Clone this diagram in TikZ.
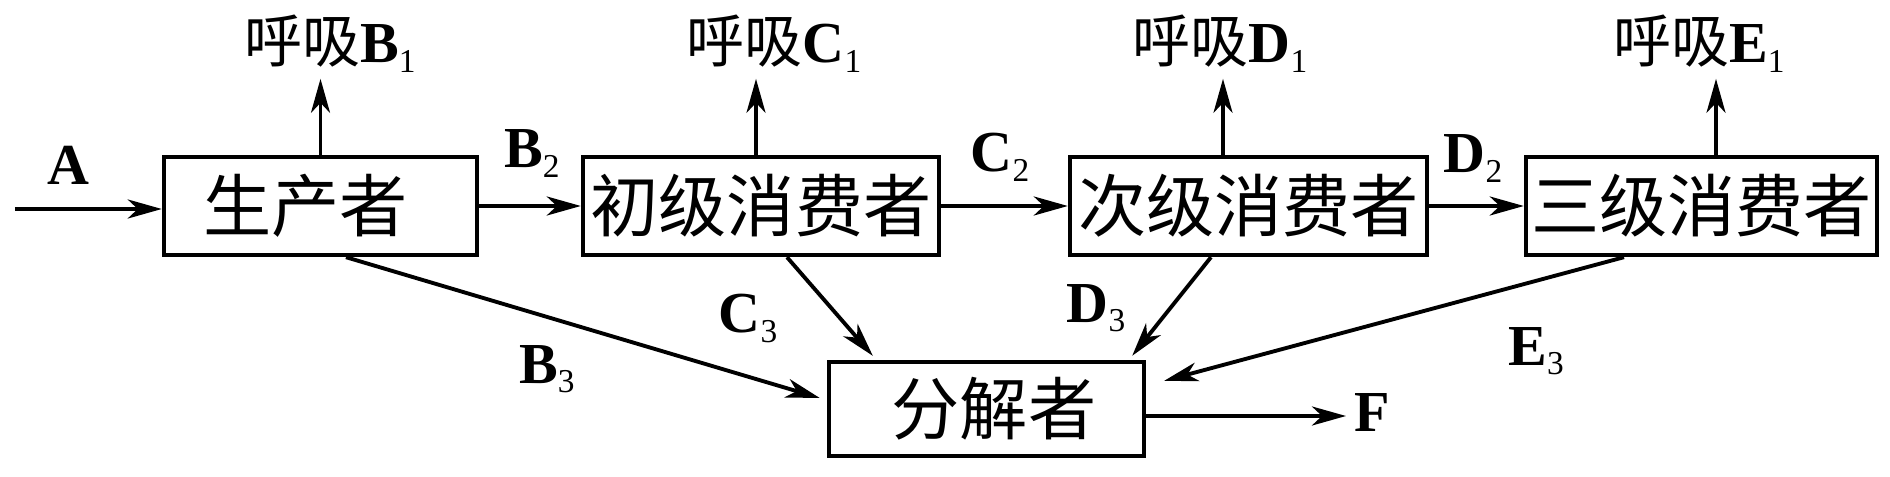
\documentclass[tikz,border=0pt]{standalone}
\usepackage{fontspec}
\setmainfont{Liberation Serif}
\newfontfamily\cjk{Noto Sans CJK SC}
\usetikzlibrary{arrows.meta}
\newcommand\boxfont{\cjk\fontsize{19.4pt}{19.4pt}\selectfont}
\newcommand\lblfont{\fontsize{16.5pt}{16.5pt}\selectfont\bfseries}
\newcommand\lowsub[1]{\raisebox{-2.6pt}{\fontsize{9.5pt}{9.5pt}\selectfont\mdseries #1}}

\begin{document}
\begin{tikzpicture}[
  box/.style={draw, line width=1.25pt, inner sep=0pt, minimum height=0.98cm, font=\boxfont},
  lbl/.style={inner sep=0pt, anchor=base, font=\lblfont},
  resp/.style={lbl, inner sep=1.7pt},
  flow/.style={line width=1.1pt, -{Stealth[length=3.4mm, width=1.9mm, inset=1mm]}}
]
\useasboundingbox (0,0) rectangle (18.90,4.76);

\node[box, minimum width=3.13cm] (prod) at (3.205,2.70) {生产者\hspace*{0.3cm}};
\node[box, minimum width=3.56cm] (c1)   at (7.61,2.70)  {初级消费者};
\node[box, minimum width=3.57cm] (c2)   at (12.485,2.70) {次级消费者};
\node[box, minimum width=3.51cm] (c3)   at (17.015,2.70) {三级消费者};
\node[box, minimum width=3.15cm, minimum height=0.94cm] (dec) at (9.865,0.67) {\hspace*{0.15cm}分解者};

\node[resp] (rB1) at (3.30,4.13)  {{\cjk\mdseries 呼吸}B\lowsub{1}};
\node[resp] (rC1) at (7.74,4.13)  {{\cjk\mdseries 呼吸}C\lowsub{1}};
\node[resp] (rD1) at (12.20,4.13) {{\cjk\mdseries 呼吸}D\lowsub{1}};
\node[resp] (rE1) at (16.99,4.13) {{\cjk\mdseries 呼吸}E\lowsub{1}};

\node[lbl] (lA)  at (0.68,2.91)  {A};
\node[lbl] (lB2) at (5.32,3.08)  {B\lowsub{2}};
\node[lbl] (lC2) at (10.00,3.04) {C\lowsub{2}};
\node[lbl] (lD2) at (14.73,3.03) {D\lowsub{2}};
\node[lbl] (lB3) at (5.47,0.93)  {B\lowsub{3}};
\node[lbl] (lC3) at (7.48,1.43)  {C\lowsub{3}};
\node[lbl] (lD3) at (10.96,1.54) {D\lowsub{3}};
\node[lbl] (lE3) at (15.36,1.11) {E\lowsub{3}};
\node[lbl, anchor=base west] (lF) at (13.54,0.44) {F};

\coordinate (ain)  at (0.15,2.67);
\coordinate (fend) at (13.46,0.60);

\draw[flow] (ain) -- (prod.west |- ain);
\draw[flow] (prod.east) -- (c1.west);
\draw[flow] (c1.east) -- (c2.west);
\draw[flow] (c2.east) -- (c3.west);
\draw[flow] (dec.east |- fend) -- (fend);

\draw[flow] (prod.north) -- (prod.north |- rB1.south);
\draw[flow] ([xshift=-0.05cm]c1.north) -- ([xshift=-0.05cm]c1.north |- rC1.south);
\draw[flow] ([xshift=-0.255cm]c2.north) -- ([xshift=-0.255cm]c2.north |- rD1.south);
\draw[flow] ([xshift=0.145cm]c3.north) -- ([xshift=0.145cm]c3.north |- rE1.south);

\draw[flow] ([xshift=0.255cm]prod.south) -- ([xshift=-0.07cm,yshift=0.11cm]dec.west);
\draw[flow] ([xshift=0.26cm]c1.south) -- ([xshift=0.46cm,yshift=0.04cm]dec.north west);
\draw[flow] ([xshift=-0.375cm]c2.south) -- ([xshift=-0.14cm,yshift=0.04cm]dec.north east);
\draw[flow] ([xshift=-0.775cm]c3.south) -- ([xshift=0.18cm,yshift=-0.21cm]dec.north east);
\end{tikzpicture}
\end{document}
